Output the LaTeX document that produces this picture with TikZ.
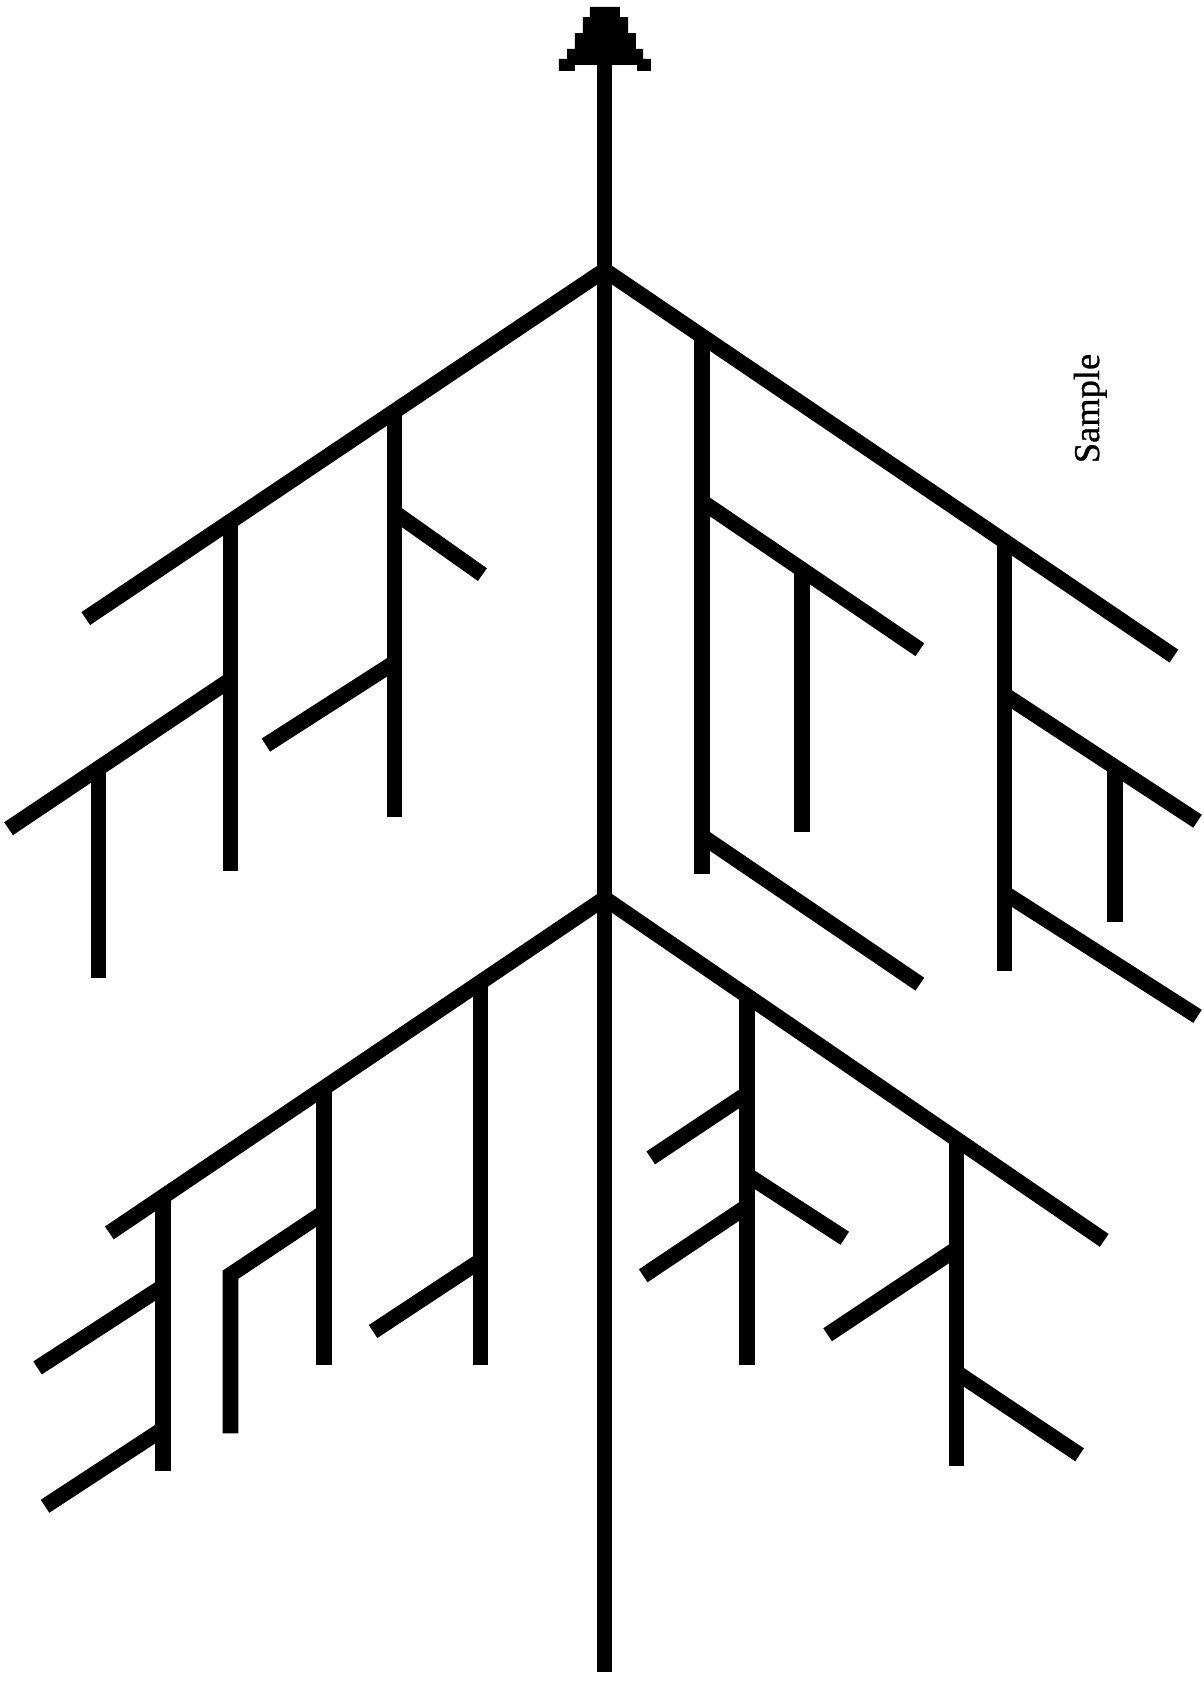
\documentclass[tikz,border=0pt]{standalone}
\usepackage{fontspec}
\setmainfont{Liberation Serif}
\newfontfamily\labelfont[FakeBold=0.8]{Liberation Serif}
\begin{document}
\begin{tikzpicture}[x=1pt,y=-1pt,
  bone/.style={line width=14.5pt, line cap=butt, line join=miter}]
\useasboundingbox (0,0) rectangle (1123,1568);
\fill[white] (0,0) rectangle (1123,1568);
% spine and arrowhead
\coordinate (base) at (564,1560);
\coordinate (tipbase) at (564,50);
\coordinate (U) at (564,252);
\coordinate (L) at (564,838);
\draw[bone] (base) -- (tipbase);
\fill (550.3,6.5) -- (578.3,6.5) -- (578.3,15.9) -- (585.8,15.9) -- (585.8,30.8) -- (593.2,30.8)
   -- (593.2,45.7) -- (599.8,45.7) -- (599.8,55) -- (607.2,55) -- (607.2,66) -- (594.2,66)
   -- (594.2,60.6) -- (536.3,60.6) -- (536.3,66) -- (521.4,66) -- (521.4,55) -- (528.9,55)
   -- (528.9,45.7) -- (536.3,45.7) -- (536.3,30.8) -- (543.8,30.8) -- (543.8,15.9) -- (550.3,15.9) -- cycle;
% upper left
\draw[bone] (U) -- (80,577);
\draw[bone] (368,383) -- (368,762);
\draw[bone] (368,478) -- (450,536);
\draw[bone] (368,618) -- (248,695);
\draw[bone] (215,486) -- (215,812);
\draw[bone] (215,634) -- (8,773);
\draw[bone] (92,717) -- (92,912);
% upper right
\draw[bone] (U) -- (1095,612);
\draw[bone] (655,314) -- (655,815);
\draw[bone] (655,468) -- (858,606);
\draw[bone] (748,531) -- (748,776);
\draw[bone] (655,780) -- (858,918);
\draw[bone] (937,505) -- (937,906);
\draw[bone] (937,648) -- (1117,766);
\draw[bone] (1040,715) -- (1040,860);
\draw[bone] (937,833) -- (1117,948);
% lower left
\draw[bone] (L) -- (102,1150);
\draw[bone] (448,916) -- (448,1273);
\draw[bone] (448,1176) -- (348,1242);
\draw[bone] (302,1015) -- (302,1273);
\draw[bone] (302,1131) -- (215,1189) -- (215,1337);
\draw[bone] (152,1116) -- (152,1372);
\draw[bone] (152,1200) -- (35,1276);
\draw[bone] (152,1333) -- (42,1405);
% lower right
\draw[bone] (L) -- (1030,1157);
\draw[bone] (697,930) -- (697,1273);
\draw[bone] (697,1020) -- (607,1080);
\draw[bone] (697,1096) -- (788,1155);
\draw[bone] (697,1125) -- (600,1190);
\draw[bone] (892,1063) -- (892,1367);
\draw[bone] (892,1165) -- (772,1245);
\draw[bone] (892,1280) -- (1007,1357);
% label
\node[rotate=90, font=\labelfont\fontsize{34}{40}\selectfont, inner sep=0pt] (lbl) at (1017,381) {Sample};
\end{tikzpicture}
\end{document}
